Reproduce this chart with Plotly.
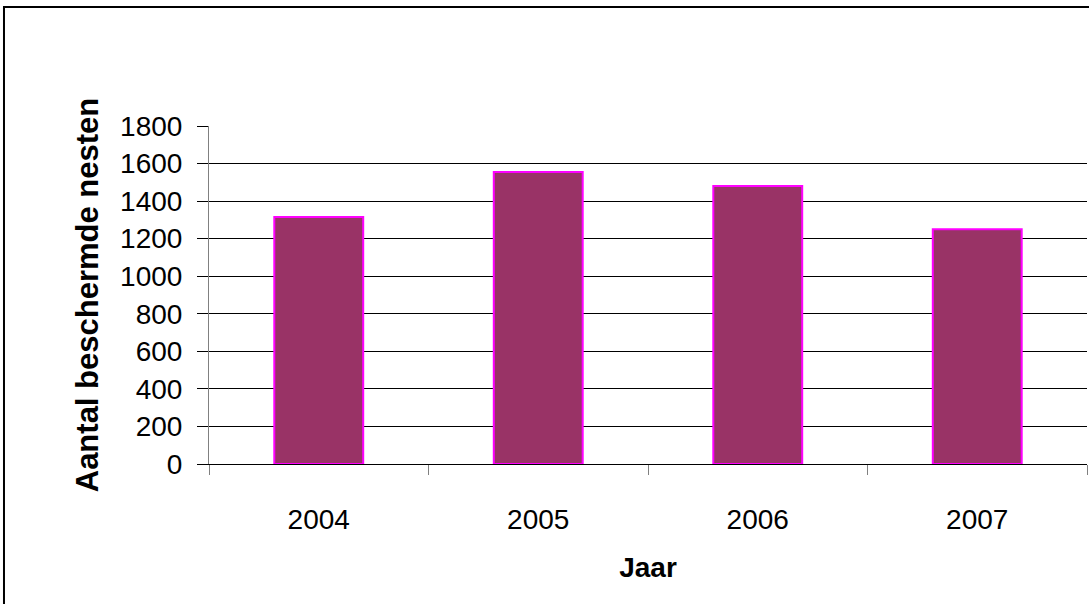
import plotly.graph_objects as go

years = ["2004", "2005", "2006", "2007"]
nests = [1315, 1555, 1480, 1250]

FONT = "Liberation Sans, Arial, sans-serif"

fig = go.Figure()
fig.add_trace(go.Bar(
    x=years, y=nests,
    marker=dict(color="#993366", line=dict(color="#FF00FF", width=2)),
    width=0.405,
))

fig.update_layout(
    width=1089, height=604,
    margin=dict(l=209, r=2, t=126, b=140),
    paper_bgcolor="white", plot_bgcolor="white",
    showlegend=False,
    font=dict(family=FONT, color="black", size=28),
    xaxis=dict(
        type="category",
        tickson="boundaries",
        ticks="outside", ticklen=10, tickcolor="#808080", tickwidth=1,
        showline=True, linecolor="black", linewidth=1,
        showgrid=False,
        tickfont=dict(size=28, family=FONT),
        ticklabelstandoff=30,
        title=dict(text="<b>Jaar</b>", font=dict(size=28, family=FONT), standoff=23),
    ),
    yaxis=dict(
        range=[0, 1800], dtick=200,
        ticks="outside", ticklen=11, tickcolor="black", tickwidth=1,
        showline=True, linecolor="#808080", linewidth=1,
        showgrid=True, gridcolor="black", gridwidth=1,
        zeroline=False,
        tickfont=dict(size=28, family=FONT),
        ticklabelstandoff=9,
        title=dict(text="<b>Aantal beschermde nesten</b>", font=dict(size=31, family=FONT), standoff=12),
    ),
    shapes=[dict(
        type="rect", xref="paper", yref="paper",
        x0=-0.2335, x1=1.2, y0=-1.0, y1=1.352,
        line=dict(color="black", width=2), fillcolor="rgba(0,0,0,0)", layer="below",
    )],
)

fig.write_html(
    "out.html",
    config={"displayModeBar": False},
    post_script="document.body.style.margin='0px';document.body.style.overflow='hidden';",
)
